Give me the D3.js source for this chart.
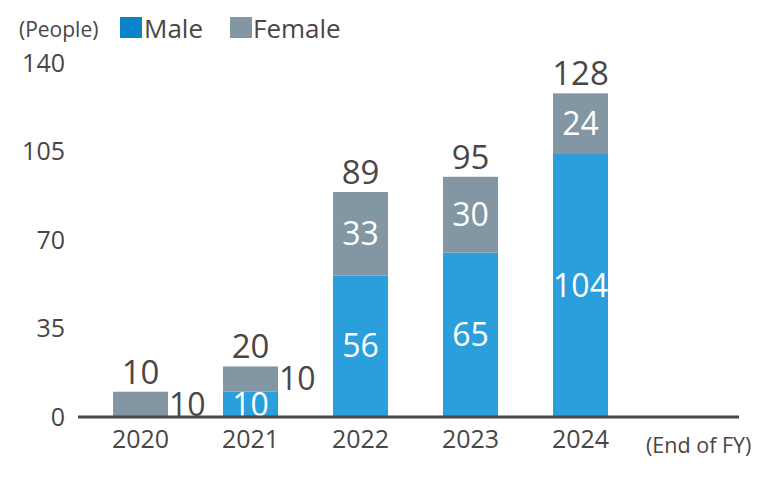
<!DOCTYPE html>
<html lang="en">
<head>
<meta charset="UTF-8">
<title>Employees</title>
<script src="https://cdn.jsdelivr.net/npm/d3@7"></script>
<style>
  body { margin: 0; background: #fff; }
  text { font-family: "Open Sans", "Noto Sans", sans-serif; fill: #4a4546; }
</style>
</head>
<body>
<svg width="777" height="477"></svg>
<script>
var years = ['2020', '2021', '2022', '2023', '2024']
var male = [0, 10, 56, 65, 104]
var female = [10, 10, 33, 30, 24]
var yTicks = [0, 35, 70, 105, 140]

var maleColor = '#2a9fdc'
var femaleColor = '#8296a3'

var svg = d3.select('svg')

// scales
var x = d3.scaleBand().domain(years).range([85.5, 635.5]).paddingInner(0.5).paddingOuter(0.25)
var y = d3.scaleLinear().domain([0, 140]).range([417, 63])

// y axis labels
var yAxis = d3.axisLeft(y).tickValues(yTicks).tickSize(0).tickPadding(0)
var gy = svg.append('g').attr('transform', 'translate(65,0)').call(yAxis)
gy.select('.domain').remove()
gy.selectAll('text').style('font-size', '25px').attr('fill', '#4a4546').attr('font-family', null)

// x axis labels
var xAxis = d3.axisBottom(x).tickSize(0).tickPadding(13)
var gx = svg.append('g').attr('transform', 'translate(0,' + y(0) + ')').call(xAxis)
gx.select('.domain').remove()
gx.selectAll('text').style('font-size', '25px').attr('fill', '#4a4546').attr('font-family', null)

// bars
var gs = svg.selectAll('.bar').data(years).enter().append('g').attr('class', 'bar')

gs.append('rect')
    .attr('x', function (d) { return x(d) })
    .attr('width', x.bandwidth())
    .attr('y', function (d, i) { return y(male[i]) })
    .attr('height', function (d, i) { return y(0) - y(male[i]) })
    .attr('fill', maleColor)

gs.append('rect')
    .attr('x', function (d) { return x(d) })
    .attr('width', x.bandwidth())
    .attr('y', function (d, i) { return y(male[i] + female[i]) })
    .attr('height', function (d, i) { return y(male[i]) - y(male[i] + female[i]) })
    .attr('fill', femaleColor)

// baseline
svg.append('line')
    .attr('x1', 78).attr('x2', 739)
    .attr('y1', y(0)).attr('y2', y(0))
    .attr('stroke', '#4a4546').attr('stroke-width', 3)

// segment labels: small segments get their label outside to the right
function small(v) { return v < 15 }

gs.filter(function (d, i) { return male[i] > 0 }).append('text')
    .attr('x', function (d) { return x(d) + x.bandwidth() / 2 })
    .attr('y', function (d) { var i = years.indexOf(d); return (y(0) + y(male[i])) / 2 })
    .attr('dy', '0.35em')
    .attr('text-anchor', 'middle')
    .style('font-size', '32px')
    .style('fill', '#fff')
    .text(function (d) { return male[years.indexOf(d)] })

gs.append('text')
    .attr('x', function (d) {
        var i = years.indexOf(d)
        return small(female[i]) ? x(d) + x.bandwidth() + 1 : x(d) + x.bandwidth() / 2
    })
    .attr('y', function (d) { var i = years.indexOf(d); return (y(male[i]) + y(male[i] + female[i])) / 2 })
    .attr('dy', '0.35em')
    .attr('text-anchor', function (d) { return small(female[years.indexOf(d)]) ? 'start' : 'middle' })
    .style('font-size', '32px')
    .style('fill', function (d) { return small(female[years.indexOf(d)]) ? '#4a4546' : '#fff' })
    .text(function (d) { return female[years.indexOf(d)] })

// totals
gs.append('text')
    .attr('x', function (d) { return x(d) + x.bandwidth() / 2 })
    .attr('y', function (d) { var i = years.indexOf(d); return y(male[i] + female[i]) - 8 })
    .attr('text-anchor', 'middle')
    .style('font-size', '33px')
    .text(function (d) { var i = years.indexOf(d); return male[i] + female[i] })

// legend
svg.append('text').attr('x', 19).attr('y', 37).style('font-size', '21px').text('(People)')
svg.append('rect').attr('x', 120).attr('y', 17).attr('width', 22).attr('height', 21).attr('fill', '#0a84c8')
svg.append('text').attr('x', 144).attr('y', 38).style('font-size', '26px').text('Male')
svg.append('rect').attr('x', 230).attr('y', 17).attr('width', 22).attr('height', 21).attr('fill', femaleColor)
svg.append('text').attr('x', 253).attr('y', 38).style('font-size', '26px').text('Female')

svg.append('text').attr('x', 646).attr('y', 453).style('font-size', '21.5px').text('(End of FY)')
</script>
</body>
</html>
